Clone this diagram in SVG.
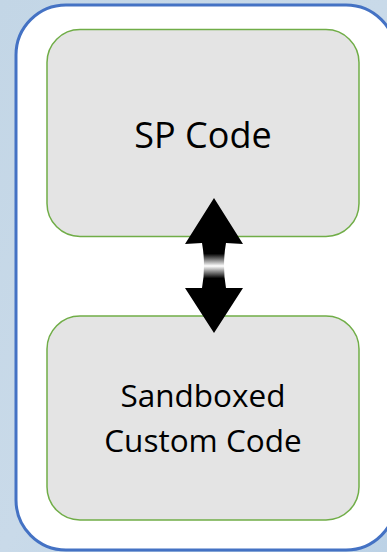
<svg xmlns="http://www.w3.org/2000/svg" width="387" height="552" viewBox="0 0 387 552">
  <defs>
    <linearGradient id="bg" x1="0" y1="0" x2="1" y2="1">
      <stop offset="0" stop-color="#c3d6e6"/>
      <stop offset="0.5" stop-color="#c9dae9"/>
      <stop offset="1" stop-color="#bcd2e6"/>
    </linearGradient>
    <linearGradient id="shaft" gradientUnits="userSpaceOnUse" x1="0" y1="244" x2="0" y2="288">
      <stop offset="0" stop-color="#000"/>
      <stop offset="0.22" stop-color="#000"/>
      <stop offset="0.5" stop-color="#fff"/>
      <stop offset="0.78" stop-color="#000"/>
      <stop offset="1" stop-color="#000"/>
    </linearGradient>
    <style>
      .box { fill: #e4e4e4; stroke: #70ad47; stroke-width: 1.5; }
      .label { font-family: "Open Sans", "Noto Sans", "Liberation Sans", sans-serif; fill: #000; text-anchor: middle; }
    </style>
  </defs>

  <!-- backdrop -->
  <rect x="0" y="0" width="387" height="552" fill="url(#bg)"/>

  <!-- container -->
  <g id="container">
    <rect x="16" y="5" width="380" height="545" rx="50" ry="50" fill="#fff" stroke="#4472c4" stroke-width="3"/>
  </g>

  <g id="sp-code">
    <rect class="box" x="47" y="29.5" width="312" height="207" rx="33" ry="33"/>
    <text class="label" x="203" y="148" font-size="36">SP Code</text>
  </g>

  <g id="sandboxed-code">
    <rect class="box" x="47" y="316" width="312" height="204" rx="33" ry="33"/>
    <text class="label" x="203" y="407" font-size="31.5">Sandboxed</text>
    <text class="label" x="203" y="452" font-size="31.5">Custom Code</text>
  </g>

  <g id="connectors">
    <path d="M214 198 L243 244 L226 243 Q222 266 226 288 L243 288 L214 333 L185 288 L202 288 Q206 266 202 243 L185 244 Z" fill="url(#shaft)"/>
  </g>
</svg>
